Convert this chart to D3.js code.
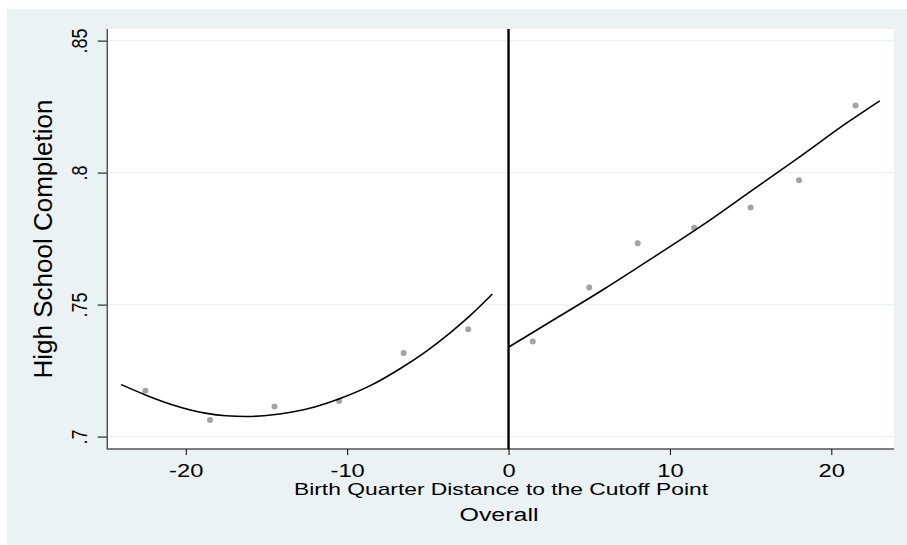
<!DOCTYPE html>
<html>
<head>
<meta charset="utf-8">
<script src="https://cdn.jsdelivr.net/npm/d3@7"></script>
<style>
  html, body { margin: 0; padding: 0; background: #ffffff; }
  svg { display: block; }
  text { font-family: Arial, "Liberation Sans", Helvetica, sans-serif; fill: #000; }
</style>
</head>
<body>
<svg id="chart" width="907" height="545"></svg>
<script>
// Binned means of high school completion by birth quarter distance
const binDistance = [-22.5, -18.5, -14.5, -10.5, -6.5, -2.5, 1.5, 5, 8, 11.5, 15, 18, 21.5];
const binCompletion = [0.7174, 0.7063, 0.7114, 0.7135, 0.7317, 0.7407, 0.7360, 0.7565, 0.7732, 0.7791, 0.7868, 0.7971, 0.8254];

// Fitted curve below the cutoff
const fitLeftX = [-24, -22.5, -20.8, -18.7, -17.5, -16.25, -15, -13.4, -11.9, -10.4, -8.6, -6.7, -5.1, -3.6, -2.4, -1];
const fitLeftY = [0.7197, 0.7158, 0.7120, 0.7088, 0.7079, 0.7076, 0.7080, 0.7093, 0.7114, 0.7145, 0.7192, 0.7258, 0.7323, 0.7394, 0.7457, 0.7540];

// Fitted curve above the cutoff
const fitRightX = [0, 3, 6, 9, 12, 15, 18, 21, 23];
const fitRightY = [0.7339, 0.7450, 0.7562, 0.7680, 0.7800, 0.7929, 0.8058, 0.8190, 0.8272];

// Axis ticks
const xTicks = [-20, -10, 0, 10, 20];
const yTicks = [0.7, 0.75, 0.8, 0.85];
const yTickLabels = [".7", ".75", ".8", ".85"];

const xTitle = "Birth Quarter Distance to the Cutoff Point";
const yTitle = "High School Completion";
const subTitle = "Overall";

const svg = d3.select("#chart");
const W = 907, H = 545;
const plot = { left: 106.7, right: 894, top: 29, bottom: 449 };

const x = d3.scaleLinear().domain([-24.9, 23.885]).range([plot.left, plot.right]);
const y = d3.scaleLinear().domain([0.6953, 0.8544]).range([plot.bottom, plot.top]);

// Graph region background
svg.append("rect").attr("x", 7).attr("y", 9).attr("width", W - 7).attr("height", H - 9)
  .attr("fill", "#eaf2f3");

// Plot region
svg.append("rect").attr("x", plot.left).attr("y", plot.top)
  .attr("width", plot.right - plot.left).attr("height", plot.bottom - plot.top)
  .attr("fill", "#ffffff");

// Horizontal grid lines
svg.append("g").selectAll("line").data(yTicks).join("line")
  .attr("x1", plot.left).attr("x2", plot.right)
  .attr("y1", d => y(d)).attr("y2", d => y(d))
  .attr("stroke", "#eaf2f3").attr("stroke-width", 1.4);

// Y axis
const yAxis = d3.axisLeft(y).tickValues(yTicks).tickSize(9)
  .tickFormat((d, i) => yTickLabels[i]);
const gy = svg.append("g").attr("transform", `translate(${plot.left},0)`).call(yAxis);
gy.select(".domain").attr("stroke", "#000").attr("d", `M0.5,${plot.top}V${plot.bottom}`);
gy.selectAll(".tick line").attr("stroke", "#000");
gy.selectAll(".tick text")
  .attr("x", null).attr("dy", null)
  .attr("text-anchor", "middle")
  .style("font-size", "18px")
  .attr("transform", "translate(-20,0) scale(1.25,1) rotate(-90)");

// X axis
const xAxis = d3.axisBottom(x).tickValues(xTicks).tickSize(6).tickFormat(d3.format("d"));
const gx = svg.append("g").attr("transform", `translate(0,${plot.bottom})`).call(xAxis);
gx.select(".domain").attr("stroke", "#555").attr("stroke-width", 1.3)
  .attr("d", `M${plot.left},0H${plot.right}`);
gx.selectAll(".tick line").attr("stroke", "#000");
gx.selectAll(".tick text")
  .attr("y", null).attr("dy", null)
  .style("font-size", "18px")
  .attr("transform", "translate(0,28) scale(1.32,1)")
  .text(d => d < 0 ? "-" + Math.abs(d) : d);

// Cutoff line
svg.append("line")
  .attr("x1", x(0)).attr("x2", x(0))
  .attr("y1", plot.top).attr("y2", plot.bottom)
  .attr("stroke", "#000").attr("stroke-width", 2.4);

// Binned scatter
svg.append("g").selectAll("circle").data(binDistance).join("circle")
  .attr("cx", d => x(d))
  .attr("cy", (d, i) => y(binCompletion[i]))
  .attr("r", 3)
  .attr("fill", "#a3a3a3");

// Fitted curves
const line = d3.line().x(d => x(d[0])).y(d => y(d[1])).curve(d3.curveMonotoneX);
const leftPts = fitLeftX.map((v, i) => [v, fitLeftY[i]]);
const rightPts = fitRightX.map((v, i) => [v, fitRightY[i]]);
[leftPts, rightPts].forEach(pts => {
  svg.append("path").attr("d", line(pts))
    .attr("fill", "none").attr("stroke", "#000").attr("stroke-width", 1.6);
});

// Titles
svg.append("text")
  .attr("transform", `translate(52,239) rotate(-90)`)
  .attr("text-anchor", "middle")
  .style("font-size", "26px")
  .text(yTitle);

svg.append("text")
  .attr("x", 501).attr("y", 495)
  .attr("text-anchor", "middle")
  .style("font-size", "17px")
  .attr("textLength", 414).attr("lengthAdjust", "spacingAndGlyphs")
  .text(xTitle);

svg.append("text")
  .attr("x", 499).attr("y", 521)
  .attr("text-anchor", "middle")
  .style("font-size", "18px")
  .attr("textLength", 79).attr("lengthAdjust", "spacingAndGlyphs")
  .text(subTitle);
</script>
</body>
</html>
